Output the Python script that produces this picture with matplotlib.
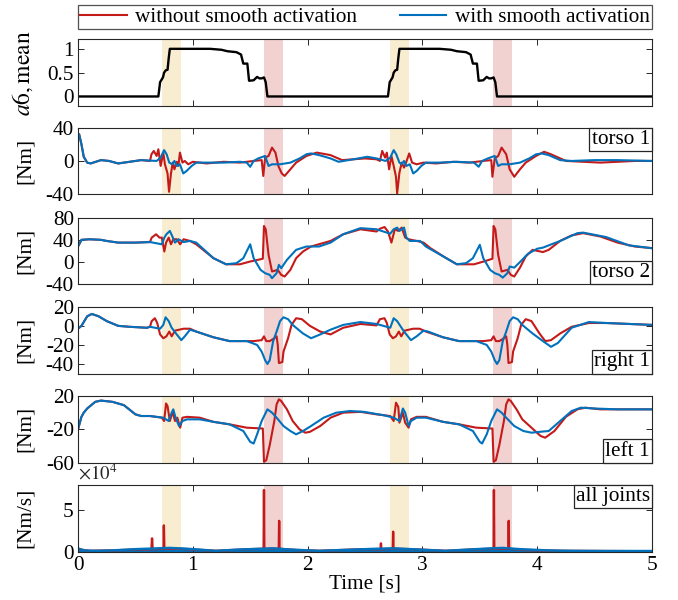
import numpy as np
import matplotlib
matplotlib.use('Agg')
import matplotlib.pyplot as plt
from matplotlib.offsetbox import AnchoredText

plt.rcParams['font.family'] = ['Liberation Serif', 'DejaVu Serif']
plt.rcParams['mathtext.fontset'] = 'stix'
plt.rcParams['axes.unicode_minus'] = False
plt.rcParams['font.size'] = 15.3

# ---- data ----
# activation periods
yellow_spans = [(0.732, 0.895), (2.718, 2.88)]
red_spans = [(1.62, 1.783), (3.617, 3.783)]

# a6,mean
a6_t = [0, 0.70, 0.715, 0.725, 0.74, 0.75, 0.765, 0.78, 0.79, 0.80, 1.15, 1.25, 1.30, 1.38, 1.42,
        1.44, 1.475, 1.49, 1.53, 1.56, 1.58, 1.60, 1.62, 1.635, 1.65,
        2.70, 2.715, 2.725, 2.74, 2.75, 2.765, 2.78, 2.79, 2.80, 3.15, 3.25, 3.30, 3.38, 3.42,
        3.44, 3.475, 3.49, 3.53, 3.56, 3.58, 3.60, 3.62, 3.635, 3.65, 5.0]
a6_v = [0, 0, 0.30, 0.34, 0.40, 0.50, 0.55, 0.56, 0.80, 1.0, 1.0, 0.98, 0.95, 0.93, 0.88,
        0.69, 0.69, 0.33, 0.34, 0.41, 0.38, 0.38, 0.40, 0.30, 0.0,
        0, 0.30, 0.34, 0.40, 0.50, 0.55, 0.56, 0.80, 1.0, 1.0, 0.98, 0.95, 0.93, 0.88,
        0.69, 0.69, 0.33, 0.34, 0.41, 0.38, 0.38, 0.40, 0.30, 0, 0]

# torso 1
t1_red_t = [0, 0.01, 0.03, 0.05, 0.08, 0.11, 0.2, 0.27, 0.35, 0.45, 0.55, 0.627, 0.64, 0.66, 0.685,
            0.70, 0.72, 0.743, 0.757, 0.78, 0.793, 0.81, 0.825, 0.84, 0.86, 0.874, 0.888, 0.91,
            0.93, 0.96, 1.0, 1.12, 1.27, 1.41, 1.53, 1.60, 1.614, 1.63, 1.66, 1.69, 1.72, 1.745,
            1.775, 1.80, 1.85, 1.90, 1.99, 2.08, 2.2, 2.3, 2.4, 2.5, 2.6,
            2.63, 2.65, 2.675, 2.69, 2.71, 2.73, 2.75, 2.77, 2.78, 2.80, 2.82, 2.84, 2.86, 2.885,
            2.91, 2.95, 3.01, 3.12, 3.27, 3.41, 3.53, 3.60, 3.61, 3.63, 3.66, 3.69, 3.73, 3.76,
            3.80, 3.85, 3.90, 3.99, 4.06, 4.12, 4.25, 4.4, 4.55, 4.7, 4.85, 5.0]
t1_red_v = [29, 32, 20, 5, -2, -3, 1, 0, -3, -1, 1, 0, 8, 12, 6,
            14, -6, 10, -4, -15, -37, -15, -2, -10, -1, -6, 10, -2,
            0, -4, -1, -3, -1, -2, 0, 1, -18, 4, 6, 16, 10, -6,
            -15, -18, -10, -2, 6, 10, 7, 1, 2, 3, 2,
            0, 12, 4, 10, -10, 6, -6, -19, -39, -14, -2, -8, -1, 9,
            -2, -4, -2, -3, -1, -2, 0, 1, -19, 3, 6, 16, 8, -10,
            -19, -10, -2, 6, 11, 8, 0, -1, -2, -1, 0, 0]
t1_blue_t = [0, 0.01, 0.03, 0.05, 0.08, 0.11, 0.2, 0.27, 0.35, 0.45, 0.55, 0.685, 0.72, 0.75, 0.772,
             0.795, 0.82, 0.84, 0.86, 0.888, 0.917, 0.946, 0.99, 1.03, 1.12, 1.27, 1.41, 1.47,
             1.50, 1.53, 1.57, 1.63, 1.66, 1.69, 1.76, 1.85, 1.93, 1.99, 2.03, 2.1, 2.2, 2.27,
             2.4, 2.52, 2.6, 2.68,
             2.72, 2.75, 2.772, 2.80, 2.82, 2.84, 2.86, 2.89, 2.92, 2.95, 2.99, 3.03, 3.15, 3.3,
             3.45, 3.49, 3.52, 3.57, 3.63, 3.66, 3.69, 3.76, 3.85, 3.93, 3.99, 4.04, 4.1, 4.2,
             4.3, 4.5, 4.7, 5.0]
t1_blue_v = [29, 32, 20, 5, -2, -3, 1, 0, -3, -1, 1, 0, 4, 13, 8,
             -2, -4, 0, -6, -4, -15, -12, -6, -2, -2, -2, -1, -2,
             -7, 0, 3, 6, -6, -4, -4, -2, 3, 8, 9, 7, 3, -1,
             2, 5, 3, 0,
             4, 13, 8, -2, -4, 0, -6, -4, -15, -12, -6, -2, -2, -1,
             -2, -7, 0, 3, 6, -6, -4, -4, -2, 3, 8, 9, 7, 1,
             0, 1, 1, 0]

# torso 2
t2_red_t = [0, 0.03, 0.1, 0.2, 0.25, 0.35, 0.5, 0.627, 0.642, 0.68, 0.71, 0.73, 0.752, 0.767, 0.79,
            0.81, 0.83, 0.86, 0.89, 0.92, 0.976, 1.03, 1.18, 1.29, 1.41, 1.5, 1.61, 1.62, 1.635,
            1.66, 1.69, 1.74, 1.77, 1.80, 1.85, 1.90, 1.96, 2.03, 2.2, 2.31, 2.46, 2.6, 2.63,
            2.67, 2.70, 2.73, 2.76, 2.79, 2.82, 2.85, 2.88, 2.95, 3.01, 3.07, 3.2, 3.3, 3.45,
            3.55, 3.61, 3.62, 3.635, 3.66, 3.69, 3.74, 3.77, 3.80, 3.85, 3.90, 3.96, 4.05, 4.1,
            4.2, 4.3, 4.4, 4.55, 4.7, 4.85, 5.0]
t2_red_v = [28, 40, 41, 40, 38, 35, 35, 36, 44, 50, 44, 44, 19, 35, 44,
            32, 41, 41, 32, 41, 38, 32, 7, -4, -4, 1, 6, 65, 59,
            13, -17, -14, -23, -26, -14, 7, 19, 28, 38, 50, 59, 55, 60,
            63, 55, 35, 59, 56, 62, 44, 41, 38, 35, 25, 8, -4, -4,
            2, 6, 65, 59, 13, -17, -14, -23, -26, -10, 10, 22, 18, 22,
            38, 48, 52, 46, 35, 28, 25]
t2_blue_t = [0, 0.03, 0.1, 0.2, 0.25, 0.35, 0.5, 0.627, 0.73, 0.752, 0.77, 0.80, 0.82, 0.845, 0.875,
             0.92, 0.976, 1.03, 1.18, 1.29, 1.38, 1.44, 1.50, 1.53, 1.59, 1.63, 1.67, 1.69, 1.73,
             1.75, 1.77, 1.82, 1.90, 1.99, 2.1, 2.2, 2.31, 2.46, 2.6, 2.72, 2.75, 2.78, 2.80,
             2.84, 2.86, 2.89, 2.98, 3.03, 3.2, 3.3, 3.38, 3.44, 3.50, 3.53, 3.59, 3.63, 3.67,
             3.70, 3.74, 3.76, 3.80, 3.85, 3.92, 4.0, 4.05, 4.2, 4.35, 4.4, 4.6, 4.8, 5.0]
t2_blue_v = [28, 40, 41, 40, 38, 35, 35, 36, 32, 44, 50, 56, 47, 35, 41,
             36, 38, 35, 7, -4, -2, 7, 32, 7, -14, -20, -23, -29, -20,
             -5, -11, 4, 22, 28, 28, 35, 50, 61, 59, 51, 59, 62, 56,
             62, 44, 38, 38, 28, 8, -4, -2, 7, 31, 7, -14, -20, -23,
             -28, -20, -8, -10, 0, 15, 24, 26, 38, 52, 53, 45, 30, 25]

# right 1
r1_red_t = [0, 0.03, 0.08, 0.12, 0.18, 0.25, 0.35, 0.45, 0.6, 0.627, 0.642, 0.67, 0.69, 0.715, 0.743,
            0.77, 0.795, 0.816, 0.845, 0.92, 0.976, 1.03, 1.18, 1.32, 1.44, 1.53, 1.60, 1.62,
            1.64, 1.67, 1.71, 1.73, 1.74, 1.75, 1.78, 1.79, 1.83, 1.86, 1.90, 1.95, 2.02, 2.11,
            2.2, 2.31, 2.46, 2.6, 2.63, 2.67, 2.69, 2.715, 2.743, 2.77, 2.795, 2.816, 2.845,
            2.92, 2.976, 3.03, 3.18, 3.32, 3.44, 3.53, 3.60, 3.62, 3.64, 3.67, 3.71, 3.73, 3.74,
            3.75, 3.78, 3.79, 3.83, 3.86, 3.90, 3.95, 4.02, 4.07, 4.12, 4.2, 4.3, 4.45, 4.6,
            4.8, 5.0]
r1_red_v = [-3, 0, 10, 12.5, 10, 5, 0, -1, -2, -1, 5, 8, 3, -9, -13,
            -11, -6, -11, -5, -3, -3, -6, -12, -16, -16, -16, -15, -11,
            -16, -16, -13, -11, -20, -39, -38, -27, -13, 1, 8, 7, 0, -6,
            -9, -2, 2, 0.5, 7, 8, 3, -9, -13, -11, -6, -11, -5,
            -3, -3, -6, -12, -16, -16, -16, -15, -11, -16, -16, -13, -11, -20,
            -39, -38, -27, -13, 1, 7, 5, -8, -16, -15, -8, -1, 3, 3,
            2, 1]
r1_blue_t = [0, 0.03, 0.08, 0.12, 0.18, 0.25, 0.35, 0.45, 0.6, 0.627, 0.715, 0.743, 0.763, 0.79,
             0.816, 0.86, 0.90, 0.93, 0.976, 1.03, 1.18, 1.32, 1.47, 1.56, 1.60, 1.63, 1.65,
             1.67, 1.70, 1.73, 1.76, 1.79, 1.83, 1.87, 1.96, 2.03, 2.11, 2.2, 2.31, 2.46, 2.6,
             2.72, 2.75, 2.78, 2.84, 2.90, 2.95, 3.01, 3.05, 3.18, 3.32, 3.47, 3.56, 3.60, 3.63,
             3.65, 3.67, 3.70, 3.73, 3.76, 3.79, 3.83, 3.87, 3.96, 4.05, 4.12, 4.18, 4.3, 4.45,
             4.6, 4.8, 5.0]
r1_blue_v = [-3, 0, 10, 12.5, 10, 5, 0, -1, -2, -1, -3, 1, 9, 5,
             -2, -9, -15, -11, -4, -6, -12, -16, -16, -20, -27, -36, -40,
             -36, -16, -6, 5, 9, 7, 1, -8, -13, -9, -4, 1, 4, 2,
             -2, 8, 5, -6, -15, -11, -5, -6, -12, -16, -16, -20, -27, -36,
             -40, -36, -16, -6, 5, 9, 7, 1, -8, -16, -22, -18, -2, 4,
             3, 2, 1]

# left 1
l1_red_t = [0, 0.03, 0.05, 0.08, 0.15, 0.2, 0.3, 0.4, 0.5, 0.55, 0.627, 0.73, 0.75, 0.767, 0.78,
            0.80, 0.825, 0.845, 0.865, 0.89, 0.91, 0.95, 1.06, 1.18, 1.32, 1.47, 1.61, 1.62,
            1.64, 1.67, 1.71, 1.73, 1.75, 1.77, 1.82, 1.87, 1.93, 1.98, 2.02, 2.11, 2.2, 2.31,
            2.46, 2.6, 2.72, 2.75, 2.77, 2.79, 2.80, 2.83, 2.85, 2.88, 2.90, 2.95, 3.03, 3.18,
            3.32, 3.47, 3.61, 3.62, 3.64, 3.67, 3.71, 3.73, 3.75, 3.77, 3.82, 3.87, 3.95, 4.03,
            4.07, 4.15, 4.25, 4.35, 4.42, 4.55, 4.7, 5.0]
l1_red_v = [-20, -5, 0, 5, 13, 14.5, 13, 9, -2, -4, -4, -6, -10, 11, 8,
            -10, 1, -10, -6, -18, -6, -5, -6, -11, -14, -18, -19, -59,
            -57, -39, -10, 10, 16, 14, 4, -10, -20, -24, -23, -16, -6, 0,
            1, -2, -4, -10, 12, 7, -12, 0, -12, -18, -8, -5, -5, -11,
            -14, -18, -19, -59, -57, -39, -10, 10, 16, 14, 4, -8, -18, -28,
            -30, -22, -5, 4, 6, 4, 4, 4]
l1_blue_t = [0, 0.03, 0.05, 0.08, 0.15, 0.2, 0.3, 0.4, 0.5, 0.55, 0.627, 0.743, 0.79, 0.816, 0.83,
             0.85, 0.88, 0.91, 0.95, 1.06, 1.18, 1.32, 1.44, 1.50, 1.53, 1.56, 1.60, 1.65, 1.69,
             1.73, 1.79, 1.85, 1.90, 1.96, 2.03, 2.14, 2.25, 2.37, 2.49, 2.66, 2.75, 2.80, 2.83,
             2.85, 2.88, 2.90, 2.95, 3.03, 3.18, 3.32, 3.44, 3.50, 3.52, 3.56, 3.60, 3.65, 3.69,
             3.73, 3.80, 3.88, 3.95, 4.02, 4.10, 4.2, 4.3, 4.38, 4.5, 4.7, 5.0]
l1_blue_v = [-20, -5, 0, 5, 13, 14.5, 13, 9, -2, -4, -4, -6, -10, 0, 4,
             -6, -16, -10, -8, -8, -11, -14, -22, -35, -37, -26, -10, 4, 0,
             -6, -16, -22, -26, -22, -16, -6, 0, 2, 1, -3, -6, -10, 5,
             0, -16, -10, -6, -6, -11, -14, -22, -35, -37, -26, -10, 4, 0,
             -6, -16, -22, -24, -23, -22, -10, 2, 6, 5, 4, 4]

# all joints (x 1e4 Nm/s)
aj_red_t = [0, 0.1, 0.3, 0.5, 0.64, 0.645, 0.65, 0.745, 0.748, 0.752, 0.9, 1.2, 1.5, 1.617, 1.62,
            1.623, 1.749, 1.752, 1.755, 1.9, 2.1, 2.5, 2.636, 2.639, 2.642, 2.742, 2.745, 2.748,
            2.9, 3.2, 3.5, 3.62, 3.623, 3.626, 3.749, 3.752, 3.755, 3.9, 4.2, 5.0]
aj_red_v = [0.3, 0.1, 0.15, 0.25, 0.3, 1.6, 0.3, 0.35, 3.15, 0.35, 0.35, 0.1, 0.3, 0.35, 7.4,
            0.35, 0.35, 3.7, 0.35, 0.2, 0.1, 0.3, 0.3, 1.0, 0.3, 0.35, 2.4, 0.35,
            0.3, 0.1, 0.3, 0.35, 7.4, 0.35, 0.35, 3.7, 0.35, 0.2, 0.1, 0.05]
aj_blue_t = [0, 0.05, 0.15, 0.3, 0.5, 0.7, 0.8, 0.95, 1.2, 1.4, 1.6, 1.7, 1.85, 2.1, 2.4, 2.6, 2.75,
             2.9, 3.2, 3.4, 3.6, 3.7, 3.85, 4.1, 4.3, 4.6, 5.0]
aj_blue_v = [0.4, 0.15, 0.1, 0.15, 0.3, 0.4, 0.45, 0.35, 0.1, 0.25, 0.35, 0.4, 0.25, 0.1, 0.25, 0.35,
             0.4, 0.3, 0.1, 0.25, 0.4, 0.45, 0.3, 0.15, 0.1, 0.08, 0.08]

red = '#C41A1A'
blue = '#0072BD'
frame = '#262626'
fs = 15.3

# ---- figure ----
fig = plt.figure(figsize=(6.78, 6.0), dpi=100)
W, H = 678.0, 600.0
left, width, h = 78 / W, 574 / W, 66.7 / H
bottoms = [106, 194.3, 284.3, 373.5, 462.7, 551.7]
axes = [fig.add_axes([left, 1 - b / H, width, h]) for b in bottoms]

for ax in axes:
    for a, b in yellow_spans:
        ax.axvspan(a, b, color='#F8EDD0', lw=0, zorder=0)
    for a, b in red_spans:
        ax.axvspan(a, b, color='#F2D1D1', lw=0, zorder=0)
    ax.set_xlim(0, 5)
    ax.set_xticks([0, 1, 2, 3, 4, 5])
    ax.tick_params(direction='in', top=True, right=True, length=4, width=0.7,
                   color=frame, labelcolor='black', pad=3, labelsize=fs)
    for s in ax.spines.values():
        s.set_color(frame)
        s.set_linewidth(0.8)
    ax.yaxis.set_label_coords(-0.075, 0.5)

lw = 1.5

# a6
ax = axes[0]
ax.plot(a6_t, a6_v, color='black', lw=1.7)
ax.set_ylim(-0.2, 1.2)
ax.set_yticks([0, 0.5, 1])
ax.set_yticklabels(['0', '0.5', '1'])
ax.set_ylabel(r'$a6,\mathrm{mean}$', fontsize=17)

panels = [
    (axes[1], t1_red_t, t1_red_v, t1_blue_t, t1_blue_v, (-40, 40), [-40, 0, 40], 'torso 1', 'upper right'),
    (axes[2], t2_red_t, t2_red_v, t2_blue_t, t2_blue_v, (-40, 80), [-40, 0, 40, 80], 'torso 2', 'lower right'),
    (axes[3], r1_red_t, r1_red_v, r1_blue_t, r1_blue_v, (-50, 20), [-40, -20, 0, 20], 'right 1', 'lower right'),
    (axes[4], l1_red_t, l1_red_v, l1_blue_t, l1_blue_v, (-60, 20), [-60, -20, 20], 'left 1', 'lower right'),
]
for ax, rt, rv, bt, bv, yl, yt, name, loc in panels:
    ax.plot(rt, rv, color=red, lw=lw, label='without smooth activation')
    ax.plot(bt, bv, color=blue, lw=lw, label='with smooth activation')
    ax.set_ylim(*yl)
    ax.set_yticks(yt)
    ax.set_yticklabels([str(v) for v in yt])
    ax.set_ylabel('[Nm]', fontsize=fs)
    at = AnchoredText(name, loc=loc, borderpad=0, pad=0.1, prop=dict(size=fs))
    at.patch.set_edgecolor(frame)
    at.patch.set_linewidth(0.9)
    at.patch.set_boxstyle('square', pad=0)
    ax.add_artist(at)

# all joints
ax = axes[5]
ax.plot(aj_red_t, np.array(aj_red_v) * 1e4, color=red, lw=1.7)
ax.fill_between(aj_blue_t, 0, np.array(aj_blue_v) * 1e4, color=blue, lw=0)
ax.plot(aj_blue_t, np.array(aj_blue_v) * 1e4, color=blue, lw=1.8)
ax.set_ylim(0, 8e4)
ax.set_yticks([0, 5e4])
ax.set_yticklabels(['0', '5'])
ax.text(0, 1.02, r'$\times10^{4}$', transform=ax.transAxes, fontsize=13.5, ha='left', va='bottom',
        color='#262626')
ax.set_ylabel('[Nm/s]', fontsize=fs)
at = AnchoredText('all joints', loc='upper right', borderpad=0, pad=0.1, prop=dict(size=fs))
at.patch.set_edgecolor(frame)
at.patch.set_linewidth(0.9)
at.patch.set_boxstyle('square', pad=0)
ax.add_artist(at)
ax.set_xticklabels(['0', '1', '2', '3', '4', '5'])
ax.set_xlabel('Time [s]', labelpad=0, fontsize=fs)

for ax in axes[:-1]:
    ax.set_xticklabels([])

handles, labels = axes[1].get_legend_handles_labels()
leg = fig.legend(handles, labels, loc='center', ncol=2, mode='expand',
                 bbox_to_anchor=(left, 1 - 30 / H, width, 26 / H),
                 fancybox=False, frameon=True, handlelength=2.2, handletextpad=0.4,
                 borderpad=0.1, borderaxespad=0, fontsize=fs)
leg.get_frame().set_edgecolor(frame)
leg.get_frame().set_linewidth(0.9)

fig.savefig('out.png', dpi=100)
